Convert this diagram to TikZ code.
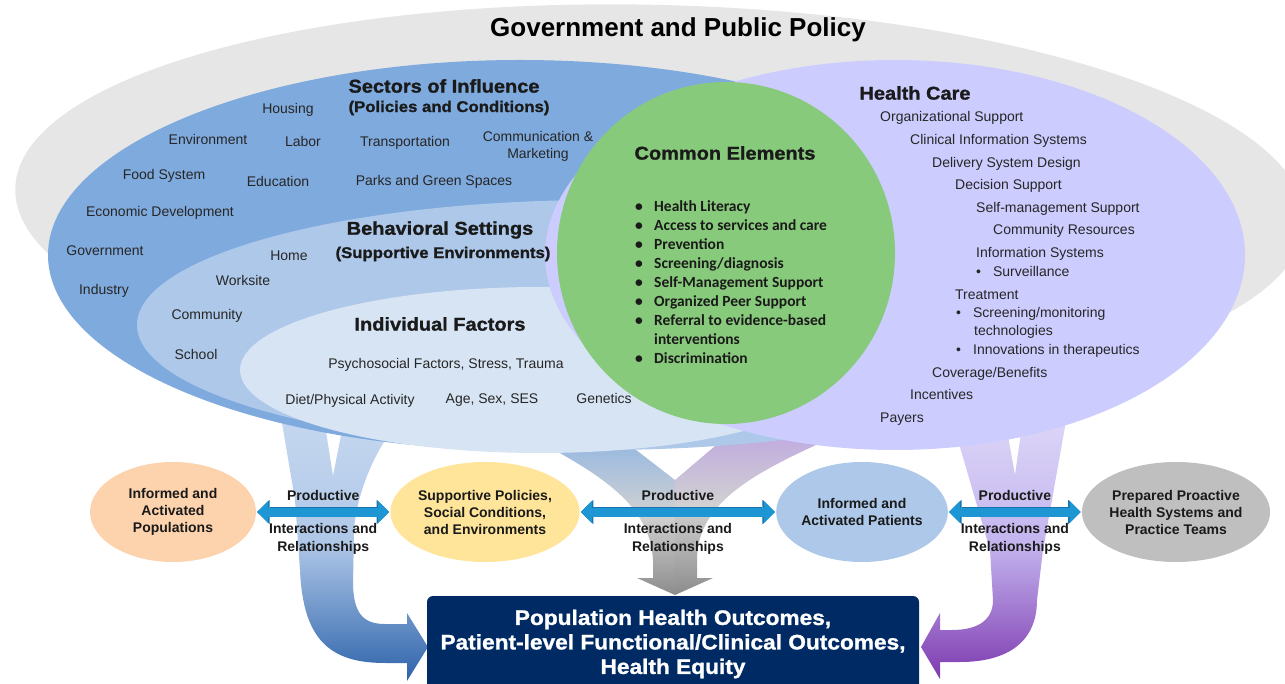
\documentclass[tikz,border=0pt]{standalone}
\usepackage{fontspec}
\setmainfont{Liberation Sans}
\newfontfamily\calib{Carlito}
\newfontfamily\blackfont{Liberation Sans}[FakeStretch=1.08, BoldFeatures={FakeBold=1.2}]
\usetikzlibrary{arrows.meta,shapes.geometric,positioning}

\definecolor{govgray}{HTML}{E6E6E6}
\definecolor{sectblue}{HTML}{7FAADD}
\definecolor{behblue}{HTML}{ADC8E9}
\definecolor{indblue}{HTML}{D7E4F4}
\definecolor{commgreen}{HTML}{88CA7B}
\definecolor{hclav}{HTML}{CCCCFF}
\definecolor{peach}{HTML}{FCD3AD}
\definecolor{sunyellow}{HTML}{FEE59A}
\definecolor{patblue}{HTML}{ADC8E9}
\definecolor{prepgray}{HTML}{BFBFBF}
\definecolor{navy}{HTML}{002A63}
\definecolor{arrowblue}{HTML}{1E96D3}
\definecolor{arrowedge}{HTML}{1673B0}
\definecolor{txtdark}{HTML}{1A1A1A}
\definecolor{txtgray}{HTML}{262626}
\definecolor{bandtop}{HTML}{C8D9F0}
\definecolor{bandmid}{HTML}{AFC7E8}
\definecolor{bandlow}{HTML}{2D63AA}
\definecolor{purtop}{HTML}{DED8F8}
\definecolor{purmid}{HTML}{C3B4EE}
\definecolor{purlow}{HTML}{7E3AB0}

\tikzset{
  item/.style={inner sep=0pt, text=txtgray, font=\fontsize{14}{16}\selectfont, text height=10pt, text depth=3pt},
  head/.style={inner sep=0pt, text=txtdark, font=\blackfont\fontsize{18.5}{22}\selectfont\bfseries},
  subhead/.style={inner sep=0pt, text=txtdark, font=\blackfont\fontsize{15.5}{18}\selectfont\bfseries},
  oval/.style={ellipse, minimum width=166pt, minimum height=100pt, inner sep=0pt, align=center,
    text=txtdark, font=\fontsize{14}{17}\selectfont\bfseries},
  prodlbl/.style={inner sep=0pt, align=center, text=txtdark, font=\fontsize{14}{18}\selectfont\bfseries},
  prodarrow/.style={draw=arrowblue, line width=9pt, shorten <=1pt, shorten >=1pt,
    {Triangle[length=11pt,width=22pt,line width=0pt]}-{Triangle[length=11pt,width=22pt,line width=0pt]},
    preaction={draw=arrowedge, line width=10.5pt,
      {Triangle[length=12.5pt,width=24.5pt,line width=0pt]}-{Triangle[length=12.5pt,width=24.5pt,line width=0pt]}}},
  outbox/.style={rectangle, rounded corners=6pt, fill=navy, text=white, align=center,
    minimum width=492pt, minimum height=96pt, inner sep=0pt, font=\blackfont\fontsize{21}{24.5}\selectfont\bfseries}
}

\begin{document}
\begin{tikzpicture}[x=1pt, y=-1pt]
    \useasboundingbox (0,0) rectangle (1285,684);

    \fill[govgray, rotate around={-1.5:(660,205)}] (660,205) ellipse [x radius=645, y radius=200];

    \shade[top color=bandtop, bottom color=bandlow, middle color=bandmid]
        (279,405) -- (295,500) -- (300,570) .. controls (303,640) and (330,663) .. (385,663)
        -- (407,663) -- (407,681) -- (428,647) -- (407,613) -- (407,624) -- (385,624)
        .. controls (362,624) and (354,612) .. (353,585) -- (354,530)
        .. controls (356,500) and (370,460) .. (392,430) -- (343,425) -- (333,476) -- (325,425) -- cycle;
    \shade[top color=purtop, bottom color=purlow, middle color=purmid]
        (955,430) -- (990,550) -- (993,600) .. controls (993,622) and (975,630) .. (952,630)
        -- (940,630) -- (940,613) -- (921,647) -- (940,679) -- (940,662) -- (960,662)
        .. controls (1010,662) and (1037,640) .. (1037,600) -- (1043,550) -- (1068,410)
        -- (1022,425) -- (1015,475) -- (1006,425) -- cycle;
    \shade[top color=sectblue!85!white, bottom color=black!45, middle color=black!18]
        (533,438) .. controls (590,470) and (650,500) .. (653,560) -- (653,578) -- (637,578)
        -- (675,595) -- (675,480) -- (618,436) -- cycle;
    \shade[top color=purmid!90!violet, bottom color=black!45, middle color=black!18]
        (675,480) -- (748,418) -- (838,435) .. controls (760,470) and (697,500) .. (697,560)
        -- (697,578) -- (713,578) -- (675,595) -- cycle;

    \fill[sectblue] (520,255) ellipse [x radius=472, y radius=195];
    \fill[behblue] (600,325) ellipse [x radius=463, y radius=125];
    \fill[indblue] (540,370) ellipse [x radius=300, y radius=83];
    \fill[hclav] (895,255) ellipse [x radius=350, y radius=195];
    \fill[commgreen] (726,253) ellipse [x radius=169, y radius=171];

    \node[inner sep=0pt, text=black, font=\fontsize{26}{28}\selectfont\bfseries] (gov) at (678,30) {Government and Public Policy};

    \node[head] (sect) at (444,86) {Sectors of Influence};
    \node[subhead] (pol) at (449,108) {(Policies and Conditions)};
    \node[item] (housing) at (288,110) {Housing};
    \node[item] (env) at (208,141) {Environment};
    \node[item] (labor) at (303,143) {Labor};
    \node[item] (transp) at (405,143) {Transportation};
    \node[inner sep=0pt, align=center, text=txtgray, font=\fontsize{14}{17}\selectfont] (comm) at (538,146) {Communication \&\\Marketing};
    \node[item] (food) at (164,176) {Food System};
    \node[item] (edu) at (278,183) {Education};
    \node[item] (parks) at (434,182) {Parks and Green Spaces};
    \node[item] (econ) at (160,213) {Economic Development};
    \node[item] (govt) at (105,252) {Government};
    \node[item] (industry) at (104,291) {Industry};

    \node[head] (beh) at (440,230) {Behavioral Settings};
    \node[subhead] (supenv) at (443,254) {(Supportive Environments)};
    \node[item] (home) at (289,257) {Home};
    \node[item] (work) at (243,282) {Worksite};
    \node[item] (community) at (207,316) {Community};
    \node[item] (school) at (196,356) {School};

    \node[head] (indiv) at (440,324) {Individual Factors};
    \node[item] (psych) at (446,365) {Psychosocial Factors, Stress, Trauma};
    \node[item] (diet) at (350,401) {Diet/Physical Activity};
    \node[item] (age) at (492,400) {Age, Sex, SES};
    \node[item] (genet) at (604,400) {Genetics};

    \node[head] (common) at (725,153) {Common Elements};
    \node[inner sep=0pt, anchor=north west, align=left, text=txtdark, font=\calib\fontsize{15.5}{19}\selectfont\bfseries] (celist) at (635,200) {%
        \makebox[19pt][l]{\textbullet}Health Literacy\\
        \makebox[19pt][l]{\textbullet}Access to services and care\\
        \makebox[19pt][l]{\textbullet}Prevention\\
        \makebox[19pt][l]{\textbullet}Screening/diagnosis\\
        \makebox[19pt][l]{\textbullet}Self-Management Support\\
        \makebox[19pt][l]{\textbullet}Organized Peer Support\\
        \makebox[19pt][l]{\textbullet}Referral to evidence-based\\
        \hspace*{19pt}interventions\\
        \makebox[19pt][l]{\textbullet}Discrimination};

    \node[head] (hc) at (915,93) {Health Care};
    \node[item, anchor=west] (org) at (880,118) {Organizational Support};
    \node[item, anchor=west] (clin) at (910,141) {Clinical Information Systems};
    \node[item, anchor=west] (deliv) at (932,164) {Delivery System Design};
    \node[item, anchor=west] (decis) at (955,186) {Decision Support};
    \node[item, anchor=west] (selfm) at (976,209) {Self-management Support};
    \node[item, anchor=west] (commres) at (993,231) {Community Resources};
    \node[item, anchor=west] (infosys) at (976,254) {Information Systems};
    \node[item, anchor=west] (surv) at (976,273) {\textbullet\hspace{12pt}Surveillance};
    \node[item, anchor=west] (treat) at (955,296) {Treatment};
    \node[item, anchor=west] (screen) at (956,314) {\textbullet\hspace{12pt}Screening/monitoring};
    \node[item, anchor=west] (techn) at (974,332) {technologies};
    \node[item, anchor=west] (innov) at (956,351) {\textbullet\hspace{12pt}Innovations in therapeutics};
    \node[item, anchor=west] (cover) at (932,374) {Coverage/Benefits};
    \node[item, anchor=west] (incent) at (910,396) {Incentives};
    \node[item, anchor=west] (payers) at (880,419) {Payers};

    \node[oval, fill=peach] (pop) at (173,512) {Informed and\\Activated\\Populations};
    \node[oval, fill=sunyellow] (sup) at (485,512) {Supportive Policies,\\Social Conditions,\\and Environments};
    \node[oval, fill=patblue] (pat) at (862,512) {Informed and\\Activated Patients};
    \node[oval, fill=prepgray] (prep) at (1176,512) {Prepared Proactive\\Health Systems and\\Practice Teams};

    \draw[prodarrow] (pop) -- (sup) node[midway, above=7pt, prodlbl] (prod1) {Productive} node[midway, below=7pt, prodlbl] (rel1) {Interactions and\\Relationships};
    \draw[prodarrow] (sup) -- (pat) node[midway, above=7pt, prodlbl] (prod2) {Productive} node[midway, below=7pt, prodlbl] (rel2) {Interactions and\\Relationships};
    \draw[prodarrow] (pat) -- (prep) node[midway, above=7pt, prodlbl] (prod3) {Productive} node[midway, below=7pt, prodlbl] (rel3) {Interactions and\\Relationships};

    \node[outbox] (out) at (673,644) {Population Health Outcomes,\\Patient-level Functional/Clinical Outcomes,\\Health Equity};
\end{tikzpicture}
\end{document}
